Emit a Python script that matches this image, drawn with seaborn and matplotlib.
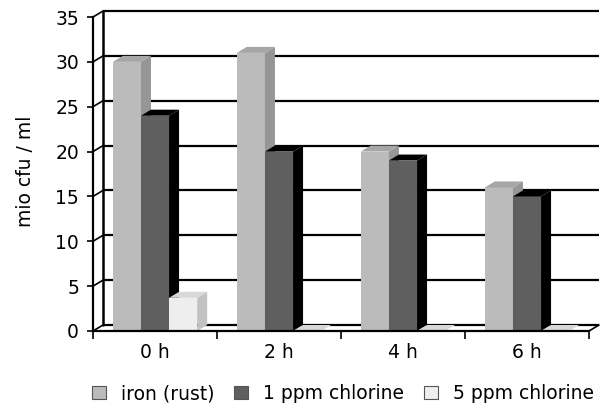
import matplotlib
matplotlib.use("Agg")
import matplotlib.pyplot as plt
import seaborn as sns
import pandas as pd
from matplotlib.patches import Polygon, Patch

times = ["0 h", "2 h", "4 h", "6 h"]
series = ["iron (rust)", "1 ppm chlorine", "5 ppm chlorine"]
iron = [30, 31, 20, 16]
cl1 = [24, 20, 19, 15]
cl5 = [3.7, 0, 0, 0]
y_ticks = [0, 5, 10, 15, 20, 25, 30, 35]

front = ["#BBBBBB", "#5F5F5F", "#EEEEEE"]
top = ["#A6A6A6", "#000000", "#D8D8D8"]
side = ["#969696", "#000000", "#C2C2C2"]

df = pd.DataFrame({
    "time": times * 3,
    "series": [s for s in series for _ in times],
    "value": iron + cl1 + cl5,
})

sns.set_theme(style="white")
plt.rcParams["font.family"] = ["DejaVu Sans"]
plt.rcParams["text.color"] = "black"
plt.rcParams["axes.labelcolor"] = "black"
plt.rcParams["xtick.color"] = "black"
plt.rcParams["ytick.color"] = "black"
FS = 13.5

fig = plt.figure(figsize=(6, 4.05), dpi=100)
ax = fig.add_axes([93 / 600, 74 / 405, 506 / 600, 320 / 405])

sns.barplot(data=df, x="time", y="value", hue="series", order=times,
            hue_order=series, palette=front, width=0.68, gap=0,
            linewidth=0, saturation=1, legend=False, ax=ax)

# depth of the fake 3D look, in data units
dx = 10 / 124
dy = 0.67

ax.set_xlim(-0.5, 3.5 + dx)
ax.set_ylim(0, 35 + dy)

# back wall gridlines and floor
for v in y_ticks:
    ax.plot([-0.5 + dx, 3.5 + dx], [v + dy, v + dy], color="black", lw=1.6,
            zorder=1, clip_on=False, solid_capstyle="butt")
    ax.plot([-0.5, -0.5 + dx], [v, v + dy], color="black", lw=1.2, zorder=1,
            clip_on=False)
ax.plot([-0.5 + dx, -0.5 + dx], [dy, 35 + dy], color="black", lw=1.8, zorder=1)
ax.plot([3.5, 3.5 + dx], [0, dy], color="black", lw=1.2, zorder=1, clip_on=False)

# 3D faces for each bar, drawn left to right
bars = []
for i, cont in enumerate(ax.containers):
    for b in cont:
        bars.append((b.get_x(), i, b))
bars.sort(key=lambda t: t[0])
for k, (x0, i, b) in enumerate(bars):
    w = b.get_width()
    h = b.get_height()
    z = 3 + k
    b.set_zorder(z)
    ax.add_patch(Polygon([(x0 + w, 0), (x0 + w + dx, dy), (x0 + w + dx, h + dy),
                          (x0 + w, h)], closed=True, facecolor=side[i],
                         edgecolor="none", zorder=z))
    ax.add_patch(Polygon([(x0, h), (x0 + w, h), (x0 + w + dx, h + dy),
                          (x0 + dx, h + dy)], closed=True, facecolor=top[i],
                         edgecolor="none", zorder=z))

for s in ["top", "right"]:
    ax.spines[s].set_visible(False)
ax.spines["left"].set_bounds(0, 35)
ax.spines["bottom"].set_bounds(-0.5, 3.5)
for s in ["left", "bottom"]:
    ax.spines[s].set_color("black")
    ax.spines[s].set_linewidth(1.6)
    ax.spines[s].set_zorder(50)

ax.set_yticks(y_ticks)
ax.set_yticklabels([str(v) for v in y_ticks], fontsize=FS)
ax.tick_params(axis="y", length=4, width=1.2, pad=6, left=True)

ax.set_xticks([-0.5, 0.5, 1.5, 2.5, 3.5])
ax.set_xticklabels([])
ax.set_xticks(range(len(times)), minor=True)
ax.set_xticklabels(times, minor=True, fontsize=FS)
ax.tick_params(axis="x", which="major", length=6, width=1.2, bottom=True)
ax.tick_params(axis="x", which="minor", length=0, pad=9)

ax.set_xlabel("")
ax.set_ylabel("mio cfu / ml", fontsize=FS, labelpad=15)

handles = [Patch(facecolor=c, edgecolor="#555555", linewidth=0.8) for c in front]
fig.legend(handles, series, loc="center", bbox_to_anchor=(0.572, 0.028),
           ncol=3, frameon=False, fontsize=FS, handlelength=0.75,
           handleheight=0.75, handletextpad=0.8, columnspacing=1.05,
           borderpad=0)

fig.savefig("out.png", dpi=100)
